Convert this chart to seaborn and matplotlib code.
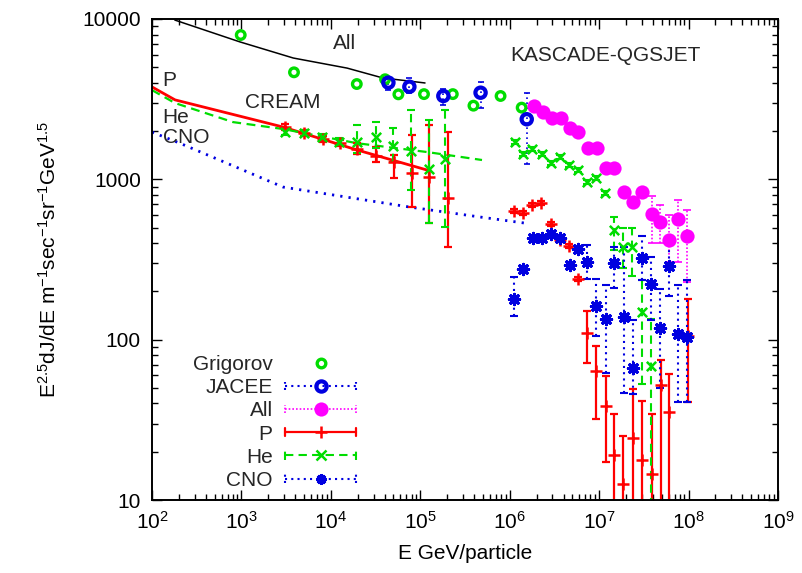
import numpy as np
import pandas as pd
import matplotlib
matplotlib.use("Agg")
import matplotlib.pyplot as plt
import seaborn as sns
from matplotlib.lines import Line2D
from matplotlib.legend_handler import HandlerBase
from matplotlib.ticker import LogLocator, NullFormatter

# ---------------- data ----------------
all_line_E = [180, 960, 3800, 15200, 38000, 113000]
all_line_F = [9850, 7200, 5710, 4940, 4290, 3990]
p_line_E = [100, 181, 2920, 19600, 119000]
p_line_F = [3770, 3130, 2120, 1525, 1143]
he_line_E = [100, 181, 805, 2920, 19600, 119000, 490000]
he_line_F = [3600, 2990, 2275, 2060, 1680, 1480, 1320]
cno_line_E = [100, 205, 2920, 76900, 467000, 1490000]
cno_line_F = [1970, 1680, 895, 671, 582, 533]

grig_E = [982, 3870, 19500, 40400, 56900, 110000, 231000, 393000, 790000, 1360000]
grig_F = [7945, 4650, 3930, 4210, 3390, 3400, 3400, 2880, 3310, 2800]

jacee_E = [44000, 75500, 181000, 472000, 1550000]
jacee_F = [4010, 3780, 3310, 3470, 2370]
jacee_lo = [3610, 3435, 2900, 2790, 1245]
jacee_hi = [4370, 4270, 3650, 4045, 3450]

kall_E = [1.875e6, 2.34e6, 2.96e6, 3.76e6, 4.74e6, 5.78e6, 7.59e6, 9.42e6, 1.20e7,
          1.48e7, 1.90e7, 2.42e7, 3.05e7, 3.88e7, 4.81e7, 6.11e7, 7.71e7, 9.72e7]
kall_F = [2880, 2640, 2405, 2405, 2100, 1983, 1560, 1560, 1172, 1172, 837, 725, 837,
          608, 543, 418, 568, 445]
kall_lo = [2800, 2570, 2340, 2340, 2040, 1930, 1515, 1515, 1140, 1140, 810, 700, 810,
           401, 401, 305, 305, 229]
kall_hi = [2960, 2710, 2470, 2470, 2160, 2040, 1605, 1605, 1205, 1205, 865, 750, 865,
           787, 692, 598, 743, 643]

cp_E = [3080, 5010, 8110, 12670, 19800, 31800, 50900, 80400, 126500, 203000]
cp_F = [2110, 1953, 1782, 1680, 1537, 1403, 1276, 1089, 1038, 767]
cp_lo = [2020, 1870, 1710, 1610, 1440, 1288, 1014, 674, 531, 377]
cp_hi = [2200, 2040, 1860, 1760, 1680, 1596, 1419, 1888, 2183, 1983]

kp_E = [1.13e6, 1.40e6, 1.78e6, 2.26e6, 2.88e6, 3.62e6, 4.61e6, 5.82e6, 7.28e6, 9.25e6,
        1.19e7, 1.48e7, 1.87e7, 2.38e7, 2.99e7, 3.86e7, 4.88e7, 6.07e7, 9.77e7]
kp_F = [638, 614, 689, 714, 526, 418, 384, 240, 110, 64, 38.7, 19.2, 12.5, 24.2, 17.7,
        14.5, 52.5, 35.6, 105]
kp_lo = [620, 597, 670, 694, 511, 406, 373, 233, 71.8, 32, 17.2, 1, 1, 1, 1, 1, 1, 1, 41]
kp_hi = [656, 631, 708, 734, 541, 430, 395, 247, 151, 91.2, 59.6, 34.4, 25.1, 49, 41.6,
         34.2, 74.7, 61, 179]

ch_E = [3080, 5010, 7910, 12450, 19800, 31800, 50000, 78300, 124500, 191000]
ch_F = [1983, 1937, 1845, 1718, 1718, 1828, 1615, 1507, 1154, 1333]
ch_lo = [1900, 1850, 1760, 1640, 1452, 1567, 1283, 857, 534, 506]
ch_hi = [2070, 2030, 1930, 1800, 2180, 2275, 2090, 2705, 2345, 2705]

kh_E = [1.135e6, 1.42e6, 1.78e6, 2.29e6, 2.89e6, 3.62e6, 4.61e6, 5.75e6, 7.28e6, 9.25e6,
        1.17e7, 1.47e7, 1.85e7, 2.34e7, 3.01e7, 3.82e7]
kh_F = [1700, 1445, 1556, 1440, 1271, 1372, 1228, 1138, 966, 1014, 824, 480, 376, 376, 149, 69]
kh_lo = [1650, 1400, 1510, 1400, 1235, 1330, 1190, 1105, 940, 985, 800, 362, 280, 250, 53, 1]
kh_hi = [1750, 1490, 1600, 1480, 1310, 1415, 1265, 1170, 995, 1045, 850, 582, 497, 497, 236, 135]

kc_E = [1.13e6, 1.42e6, 1.80e6, 2.27e6, 2.87e6, 3.66e6, 4.68e6, 5.78e6, 7.28e6, 9.25e6,
        1.19e7, 1.47e7, 1.89e7, 2.40e7, 3.01e7, 3.78e7, 4.81e7, 6.10e7, 7.60e7, 9.72e7]
kc_F = [179, 275, 433, 433, 454, 430, 293, 367, 303, 162, 135, 302, 139, 66.8, 321, 222,
        118, 287, 108, 104]
kc_lo = [141, 262, 420, 420, 440, 417, 284, 356, 239, 106, 61.7, 210, 46.7, 45.8, 236,
         132, 49.7, 187, 41, 41]
kc_hi = [245, 288, 446, 446, 468, 443, 302, 378, 389, 239, 219, 380, 380, 132, 440, 329,
         207, 399, 219, 236]

legend_labels = ["Grigorov", "JACEE", "All", "P", "He", "CNO"]
x_ticks = [1e2, 1e3, 1e4, 1e5, 1e6, 1e7, 1e8, 1e9]
y_ticks = [10, 100, 1000, 10000]

# ---------------- style ----------------
sns.set_theme(style="ticks")
plt.rcParams["font.family"] = ["Liberation Sans", "DejaVu Sans"]
plt.rcParams["mathtext.fontset"] = "custom"
plt.rcParams["mathtext.rm"] = "Liberation Sans"
plt.rcParams["mathtext.it"] = "Liberation Sans:italic"
plt.rcParams["mathtext.bf"] = "Liberation Sans:bold"
FS = 15

GREEN = "#00dd00"
BLUE = "#0000e0"
MAG = "#ff00ff"
RED = "#ff0000"

fig = plt.figure(figsize=(8.02, 5.73), dpi=100)
ax = fig.add_axes([152 / 802, 1 - 500 / 573, (778 - 152) / 802, (500 - 19) / 573])
ax.set_xscale("log")
ax.set_yscale("log")
ax.set_xlim(1e2, 1e9)
ax.set_ylim(10, 10000)

# model lines
sns.lineplot(x=all_line_E, y=all_line_F, ax=ax, color="black", lw=1.1, sort=False,
             estimator=None)
sns.lineplot(x=p_line_E, y=p_line_F, ax=ax, color=RED, lw=2.0, sort=False, estimator=None)
sns.lineplot(x=he_line_E, y=he_line_F, ax=ax, color=GREEN, lw=1.6, sort=False,
             estimator=None, linestyle=(0, (4, 2.5)))
sns.lineplot(x=cno_line_E, y=cno_line_F, ax=ax, color=BLUE, lw=2.0, sort=False,
             estimator=None, linestyle=(0, (0.8, 2.2)))


def ebars(E, F, lo, hi, color, ls, lw, capsize):
    E = np.asarray(E); F = np.asarray(F)
    err = [F - np.asarray(lo), np.asarray(hi) - F]
    c = ax.errorbar(E, F, yerr=err, fmt="none", ecolor=color, elinewidth=lw,
                    capsize=capsize, capthick=lw)
    for lc in c[2]:
        lc.set_linestyle(ls)
    return c


# Grigorov
sns.scatterplot(x=grig_E, y=grig_F, ax=ax, marker="o", s=38, facecolors="none",
                edgecolor=GREEN, linewidth=2.4, zorder=3)
# JACEE
ebars(jacee_E, jacee_F, jacee_lo, jacee_hi, BLUE, (0, (1, 2)), 1.2, 2.5)
sns.scatterplot(x=jacee_E, y=jacee_F, ax=ax, marker="o", s=55, facecolors="none",
                edgecolor=BLUE, linewidth=3.0, zorder=3)
# All (KASCADE)
ebars(kall_E, kall_F, kall_lo, kall_hi, MAG, (0, (1, 1.2)), 1.2, 3)
sns.scatterplot(x=kall_E, y=kall_F, ax=ax, marker="o", s=105, color=MAG,
                edgecolor=MAG, linewidth=0, zorder=3)
# P
ebars(cp_E, cp_F, cp_lo, cp_hi, RED, "-", 1.6, 3.2)
ebars(kp_E, kp_F, kp_lo, kp_hi, RED, "-", 1.6, 3.2)
sns.scatterplot(x=cp_E + kp_E, y=cp_F + kp_F, ax=ax, marker="+", s=65, color=RED,
                edgecolor=RED, linewidth=1.8, zorder=4)
# He
ebars(ch_E, ch_F, ch_lo, ch_hi, GREEN, (0, (4, 2.5)), 1.5, 3)
ebars(kh_E, kh_F, kh_lo, kh_hi, GREEN, (0, (4, 2.5)), 1.5, 3)
sns.scatterplot(x=ch_E + kh_E, y=ch_F + kh_F, ax=ax, marker="x", s=45, color=GREEN,
                edgecolor=GREEN, linewidth=1.8, zorder=4)
# CNO
ebars(kc_E, kc_F, kc_lo, kc_hi, BLUE, (0, (1, 2)), 1.5, 3)
sns.scatterplot(x=kc_E, y=kc_F, ax=ax, marker=(8, 2, 0), s=55, color=BLUE,
                edgecolor=BLUE, linewidth=2.2, zorder=4)

# ---------------- axes ----------------
ax.xaxis.set_minor_locator(LogLocator(base=10, subs=np.arange(2, 10), numticks=20))
ax.yaxis.set_minor_locator(LogLocator(base=10, subs=np.arange(2, 10), numticks=20))
ax.set_xticks(x_ticks)
ax.set_xticklabels([r"$10^{%d}$" % int(round(np.log10(t))) for t in x_ticks])
ax.set_yticks(y_ticks)
ax.set_yticklabels([str(t) for t in y_ticks])
ax.yaxis.set_minor_formatter(NullFormatter())
ax.xaxis.set_minor_formatter(NullFormatter())
ax.set_xlim(1e2, 1e9)
ax.set_ylim(10, 10000)
ax.tick_params(which="both", direction="in", top=True, right=True, colors="black",
               labelsize=FS, width=1.0)
ax.tick_params(which="major", length=7, pad=8)
ax.tick_params(which="minor", length=4)
for s in ax.spines.values():
    s.set_color("black")
    s.set_linewidth(1.4)
ax.grid(False)

ax.set_xlabel("E GeV/particle", fontsize=FS, color="black", labelpad=8)
ax.set_ylabel(r"E$^{2.5}$dJ/dE m$^{-1}$sec$^{-1}$sr$^{-1}$GeV$^{1.5}$", fontsize=FS,
              color="black", labelpad=16)

# annotations
ax.text(0.308, 0.950, "All", transform=ax.transAxes, ha="center", va="center", fontsize=FS)
ax.text(0.724, 0.925, "KASCADE-QGSJET", transform=ax.transAxes, ha="center", va="center",
        fontsize=FS)
ax.text(0.209, 0.827, "CREAM", transform=ax.transAxes, ha="center", va="center", fontsize=FS)
ax.text(0.017, 0.873, "P", transform=ax.transAxes, ha="left", va="center", fontsize=FS)
ax.text(0.017, 0.796, "He", transform=ax.transAxes, ha="left", va="center", fontsize=FS)
ax.text(0.017, 0.753, "CNO", transform=ax.transAxes, ha="left", va="center", fontsize=FS)


# ---------------- legend (gnuplot style) ----------------
class GPHandler(HandlerBase):
    def __init__(self, color, ls, lw, marker, ms, mfc, mew, line=True):
        super().__init__()
        self.kw = dict(color=color, ls=ls, lw=lw, marker=marker, ms=ms, mfc=mfc, mew=mew,
                       line=line)

    def create_artists(self, legend, orig_handle, xdescent, ydescent, width, height,
                       fontsize, trans):
        k = self.kw
        y = height / 2 - ydescent
        x0, x1 = -xdescent, width - xdescent
        arts = []
        if k["line"]:
            ln = Line2D([x0, x1], [y, y], color=k["color"], ls=k["ls"], lw=k["lw"])
            ln.set_transform(trans)
            arts.append(ln)
            for xx in (x0, x1):
                cp = Line2D([xx, xx], [y - 3, y + 3], color=k["color"], ls=k["ls"],
                            lw=k["lw"])
                cp.set_transform(trans)
                arts.append(cp)
        mk = Line2D([(x0 + x1) / 2], [y], ls="none", marker=k["marker"], ms=k["ms"],
                    mfc=k["mfc"], mec=k["color"], mew=k["mew"])
        mk.set_transform(trans)
        arts.append(mk)
        return arts


handlers = [
    GPHandler(GREEN, "-", 1, "o", 6.2, "none", 2.4, line=False),
    GPHandler(BLUE, (0, (1, 2)), 1.5, "o", 7.4, "none", 3.0),
    GPHandler(MAG, (0, (1, 1.2)), 1.2, "o", 10.2, MAG, 0),
    GPHandler(RED, "-", 1.6, "+", 8, RED, 1.8),
    GPHandler(GREEN, (0, (4, 2.5)), 1.5, "x", 6.7, GREEN, 1.8),
    GPHandler(BLUE, (0, (1, 2)), 1.5, (8, 2, 0), 7.4, BLUE, 2.2),
]
dummies = [Line2D([], []) for _ in legend_labels]
leg = ax.legend(dummies, legend_labels, handler_map=dict(zip(dummies, handlers)),
                loc="upper right", bbox_to_anchor=((356 - 152) / 626, 1 - (355 - 19) / 481),
                frameon=False, markerfirst=False, fontsize=FS, handlelength=3.4,
                handletextpad=0.6, labelspacing=0.2, borderpad=0, borderaxespad=0)

fig.savefig("out.png", dpi=100)
